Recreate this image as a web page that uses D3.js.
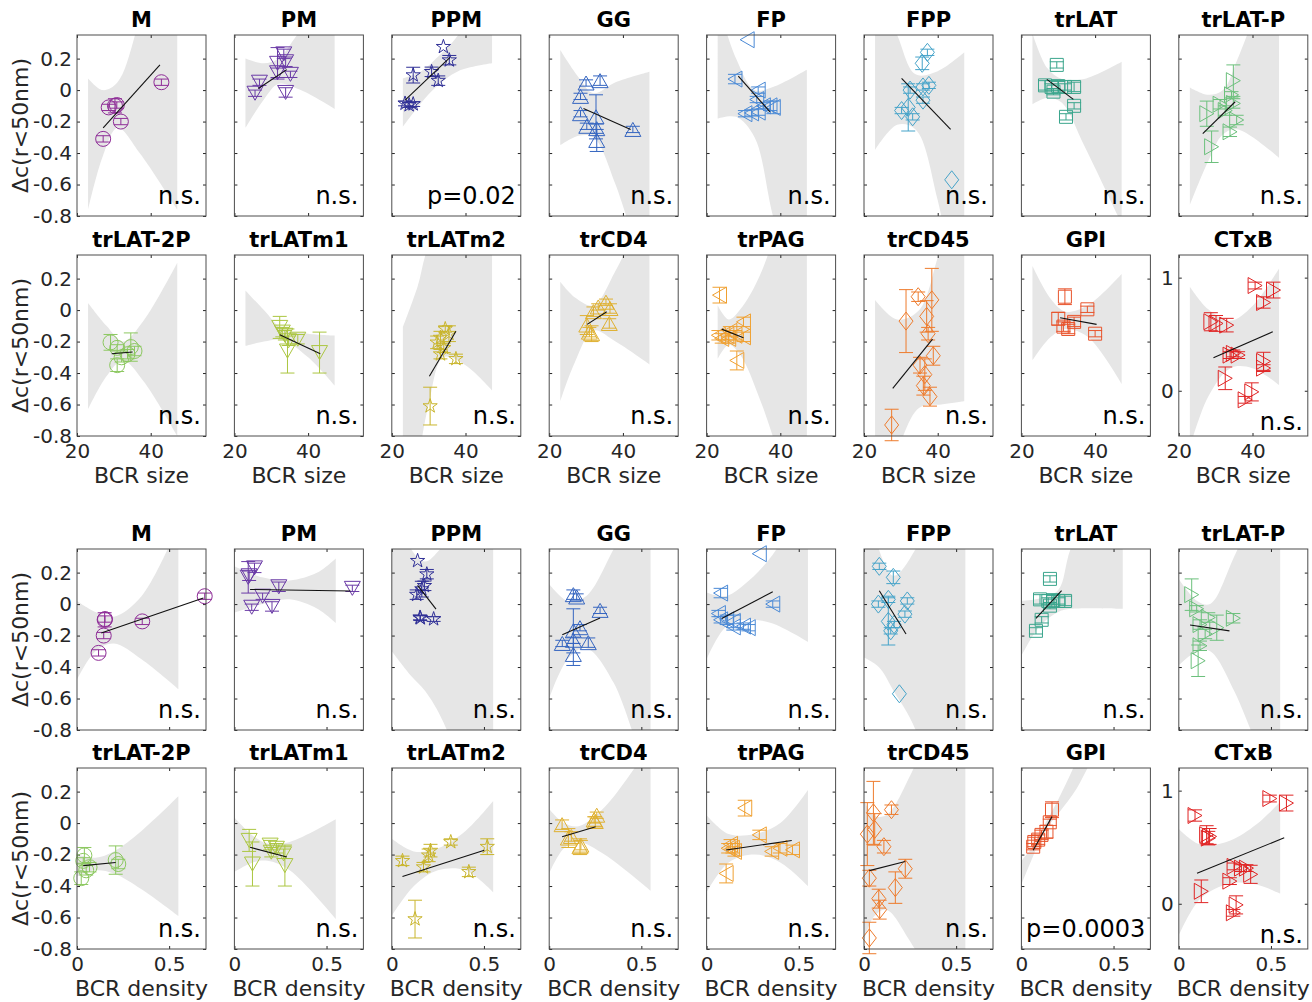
<!DOCTYPE html>
<html><head><meta charset="utf-8">
<script src="https://cdn.jsdelivr.net/npm/d3@7"></script>
<style>body{margin:0;background:#fff;} svg{display:block;} text{font-family:"DejaVu Sans",sans-serif;}</style>
</head><body><svg id="chart" width="1312" height="1002"></svg>
<script>
// ---------------- DATA ----------------
const categories = ["M","PM","PPM","GG","FP","FPP","trLAT","trLAT-P","trLAT-2P","trLATm1","trLATm2","trCD4","trPAG","trCD45","GPI","CTxB"];
const xTicksSize = [20, 40];
const xTicksDensity = [0, 0.5];
const yTicks = [-0.8, -0.6, -0.4, -0.2, 0, 0.2];
const yTicksCTxB = [0, 1];
const sigSize = ["n.s.","n.s.","p=0.02","n.s.","n.s.","n.s.","n.s.","n.s.","n.s.","n.s.","n.s.","n.s.","n.s.","n.s.","n.s.","n.s."];
const sigDensity = ["n.s.","n.s.","n.s.","n.s.","n.s.","n.s.","n.s.","n.s.","n.s.","n.s.","n.s.","n.s.","n.s.","n.s.","p=0.0003","n.s."];

// Δc(r<50nm) per category (shared by both halves)
const deltaC = [
  [-0.31,-0.11,-0.10,-0.095,-0.20,0.05],
  [-0.02,0.05,0.17,0.23,0.11,0.10,-0.015,0.18],
  [0.275,0.19,0.095,0.116,0.06,-0.085,-0.095,-0.089],
  [0.045,0.06,-0.04,-0.15,-0.17,-0.23,-0.25,-0.245,-0.32],
  [0.32,0.07,0.0,-0.06,-0.10,-0.10,-0.11,-0.14,-0.15,-0.145],
  [0.24,0.17,0.0,-0.11,0.02,-0.064,-0.13,-0.17,-0.57,0.03],
  [0.16,0.03,0.02,0.025,0.02,0.02,-0.01,-0.10,-0.17],
  [0.06,-0.03,-0.09,-0.13,-0.15,-0.19,-0.265,-0.36,-0.085],
  [-0.205,-0.24,-0.35,-0.30,-0.28,-0.235,-0.26],
  [-0.11,-0.14,-0.16,-0.195,-0.26,-0.185,-0.27],
  [-0.61,-0.205,-0.175,-0.24,-0.15,-0.28,-0.31,-0.12],
  [-0.095,-0.14,-0.01,0.02,0.05,0.01,-0.085,-0.15],
  [0.095,-0.16,-0.18,-0.16,-0.135,-0.16,-0.075,-0.17,-0.32,-0.18],
  [-0.73,-0.07,0.085,0.065,-0.04,-0.15,-0.29,-0.35,-0.41,-0.55,-0.48],
  [-0.15,-0.12,-0.105,-0.075,-0.055,0.005,0.085],
  [0.93,0.89,0.78,0.61,0.595,0.58,0.33,0.315,0.315,0.26,0.20,0.11,-0.01,-0.08]
];
const deltaCErr = [
  [0.02,0.02,0.045,0.02,0.02,0.02],
  [0.02,0.02,0.10,0.03,0.03,0.02,0.03,0.03],
  [0.0,0.03,0.05,0.03,0.03,0.015,0.015,0.015],
  [0.02,0.03,0.02,0.02,0.14,0.02,0.02,0.03,0.07],
  [0.0,0.03,0.02,0.02,0.02,0.03,0.04,0.02,0.02,0.02],
  [0.02,0.04,0.02,0.15,0.02,0.02,0.02,0.02,0.0,0.02],
  [0.02,0.03,0.02,0.03,0.02,0.03,0.02,0.02,0.02],
  [0.10,0.02,0.03,0.03,0.08,0.03,0.03,0.10,0.03],
  [0.05,0.02,0.04,0.03,0.03,0.09,0.03],
  [0.07,0.03,0.03,0.03,0.14,0.03,0.13],
  [0.12,0.04,0.04,0.03,0.05,0.03,0.03,0.02],
  [0.06,0.03,0.03,0.02,0.02,0.03,0.03,0.05],
  [0.05,0.03,0.03,0.03,0.03,0.03,0.03,0.03,0.06,0.03],
  [0.10,0.20,0.03,0.20,0.10,0.04,0.06,0.05,0.10,0.06,0.06],
  [0.02,0.03,0.03,0.03,0.04,0.02,0.05],
  [0.03,0.07,0.05,0.08,0.07,0.06,0.03,0.03,0.03,0.08,0.03,0.10,0.08,0.03]
];
const bcrSize = [
  [27.1,28.6,30.3,30.8,31.9,42.9],
  [25.6,26.8,31.7,33.4,31.7,35.2,33.9,33.9],
  [34.0,35.6,25.8,30.8,32.6,23.6,24.7,25.8],
  [30.0,33.8,28.5,28.5,32.7,30.2,42.7,32.9,32.9],
  [31.0,27.7,34.0,33.6,35.4,37.2,38.1,34.0,30.4,32.2],
  [37.2,35.8,32.5,32.0,36.0,36.0,30.2,33.2,43.8,37.6],
  [29.6,26.4,28.2,30.0,31.8,34.3,28.7,34.3,32.1],
  [34.8,34.3,31.2,32.6,27.6,35.7,33.9,28.9,34.8],
  [29.1,30.9,30.9,32.1,33.7,34.6,35.6],
  [32.3,33.0,33.7,34.7,34.4,37.2,43.1],
  [30.4,32.3,33.2,34.1,35.5,33.2,37.4,34.5],
  [30.2,30.9,32.0,33.3,35.4,36.5,36.3,31.5],
  [23.5,23.2,24.1,25.5,26.3,27.7,30.0,30.0,28.2,26.0],
  [27.5,31.4,34.7,38.4,37.0,37.4,38.8,35.2,36.5,37.9,36.1],
  [40.0,32.7,31.4,34.3,30.0,37.9,31.8],
  [40.7,45.7,43.0,28.7,30.1,33.0,34.8,33.9,36.1,43.0,43.0,32.6,39.8,38.0]
];
const bcrDensity = [
  [0.117,0.354,0.15,0.152,0.145,0.693],
  [0.094,0.153,0.075,0.109,0.241,0.64,0.204,0.08],
  [0.14,0.19,0.163,0.177,0.135,0.153,0.227,0.155],
  [0.149,0.131,0.276,0.167,0.131,0.131,0.071,0.212,0.131],
  [0.286,0.076,0.359,0.064,0.076,0.109,0.145,0.2,0.226,0.145],
  [0.083,0.159,0.078,0.132,0.235,0.222,0.163,0.145,0.192,0.132],
  [0.155,0.101,0.146,0.173,0.2,0.237,0.155,0.11,0.079],
  [0.07,0.097,0.296,0.115,0.206,0.143,0.115,0.105,0.16],
  [0.04,0.034,0.023,0.05,0.068,0.21,0.224],
  [0.08,0.194,0.228,0.267,0.098,0.2,0.274],
  [0.126,0.2,0.21,0.058,0.518,0.172,0.418,0.32],
  [0.104,0.172,0.07,0.244,0.258,0.25,0.12,0.167],
  [0.207,0.117,0.151,0.14,0.13,0.398,0.286,0.466,0.106,0.353],
  [0.029,0.018,0.149,0.051,0.058,0.108,0.224,0.029,0.17,0.085,0.08],
  [0.064,0.07,0.091,0.109,0.136,0.154,0.166],
  [0.494,0.584,0.088,0.151,0.167,0.16,0.3,0.367,0.34,0.39,0.277,0.122,0.311,0.296]
];

// regression line endpoints
const fitSizeX = [[27.1,42.5],[26.5,34.2],[23.6,35.8],[29.3,42.1],[28.6,37.2],[30.2,43.5],[26.9,34.1],[26.5,35.3],[29.4,35.1],[32.3,43.3],[30.2,37.4],[30.3,35.6],[24.1,30.0],[27.8,38.6],[30.5,40.4],[29.4,45.5]];
const fitSizeY = [[-0.24,0.16],[0.01,0.13],[-0.064,0.208],[-0.117,-0.25],[0.089,-0.138],[0.074,-0.25],[0.068,-0.059],[-0.276,-0.074],[-0.277,-0.266],[-0.156,-0.277],[-0.42,-0.134],[-0.091,-0.011],[-0.121,-0.176],[-0.498,-0.184],[-0.049,-0.091],[0.292,0.522]];
const fitDensityX = [[0.132,0.686],[0.085,0.63],[0.14,0.24],[0.071,0.276],[0.082,0.359],[0.083,0.228],[0.079,0.218],[0.061,0.275],[0.034,0.21],[0.085,0.285],[0.058,0.502],[0.07,0.252],[0.106,0.462],[0.029,0.224],[0.064,0.166],[0.099,0.572]];
const fitDensityY = [[-0.184,0.039],[0.093,0.083],[0.119,-0.032],[-0.195,-0.089],[-0.091,0.078],[0.085,-0.19],[-0.091,0.085],[-0.133,-0.17],[-0.27,-0.25],[-0.154,-0.216],[-0.34,-0.173],[-0.087,-0.023],[-0.171,-0.111],[-0.302,-0.244],[-0.173,0.041],[0.27,0.583]];

// confidence bands (x, lower, upper)
const bandSizeX = [
  [23,27,31,37,47.2],[23,28,32,38,47.2],[23,28,32,38,47.2],[23,28,32,38,47.2],
  [23,28,33,38,47.2],[23,29,34,40,47.2],[23,27,31,37,47.2],[23,28,32,36,47.2],
  [23,28,32.5,38,47.2],[23,28,33,40,47.2],[23,27,30,34,40,47.2],[23,27,32,38,47.2],
  [23,26,29,35,47.2],[23,29,35,41,47.2],[23,28,32,38,47.2],[23,28,34,40,47.2]
];
const bandSizeLo = [
  [-0.76,-0.42,-0.24,-0.4,-0.76],[-0.24,-0.06,0.04,0.0,-0.12],[-0.233,-0.08,0.02,0.12,0.17],[-0.35,-0.29,-0.3,-0.6,-1.3],
  [-0.18,-0.17,-0.3,-0.8,-1.6],[-0.38,-0.22,-0.25,-0.7,-1.6],[-0.09,-0.05,-0.08,-0.35,-0.85],[-0.73,-0.45,-0.28,-0.25,-0.43],
  [-0.63,-0.42,-0.32,-0.45,-0.8],[-0.227,-0.2,-0.19,-0.3,-0.48],[-1.3,-0.95,-0.6,-0.3,-0.35,-0.51],[-0.58,-0.33,-0.13,-0.2,-0.345],
  [-0.31,-0.22,-0.28,-0.6,-1.5],[-1.34,-0.9,-0.62,-0.6,-0.58],[-0.32,-0.17,-0.12,-0.17,-0.47],[-0.5,-0.05,0.2,0.2,0.05]
];
const bandSizeHi = [
  [0.074,0.0,0.05,0.45,1.3],[0.2,0.17,0.2,0.38,0.6],[0.074,0.12,0.2,0.35,0.75],[0.254,0.08,-0.02,0.05,0.117],
  [0.55,0.2,0.0,0.02,0.13],[0.7,0.35,0.1,0.12,0.24],[0.36,0.14,0.07,0.07,0.18],[0.017,-0.03,0.0,0.2,0.9],
  [0.045,-0.1,-0.2,-0.07,0.3],[0.125,0.0,-0.12,-0.15,-0.162],[-0.108,0.15,0.4,0.5,0.7,1.1],[0.18,0.08,0.03,0.25,0.7],
  [0.03,-0.06,0.0,0.25,1.2],[0.064,-0.06,0.0,0.4,0.68],[0.28,0.07,-0.01,0.03,0.23],[0.92,0.72,0.62,0.75,1.08]
];
const bandDensityX = [
  [0,0.1,0.2,0.35,0.55],[0,0.15,0.3,0.45,0.55],[0,0.1,0.18,0.28,0.55],[0,0.1,0.2,0.35,0.55],
  [0,0.1,0.2,0.35,0.55],[0,0.08,0.16,0.28,0.55],[0,0.1,0.2,0.27,0.55],[0,0.1,0.17,0.3,0.55],
  [0,0.1,0.2,0.35,0.55],[0,0.1,0.18,0.3,0.55],[0,0.12,0.25,0.4,0.55],[0,0.08,0.16,0.3,0.55],
  [0,0.12,0.26,0.4,0.55],[0,0.05,0.12,0.25,0.55],[0,0.06,0.12,0.2,0.3,0.4],[0,0.12,0.28,0.42,0.55]
];
const bandDensityLo = [
  [-0.48,-0.3,-0.25,-0.35,-0.54],[-0.054,0.0,0.03,-0.03,-0.12],[-0.3,-0.45,-0.55,-0.75,-1.6],[-0.6,-0.35,-0.28,-0.5,-1.2],
  [-0.35,-0.15,-0.1,-0.12,-0.24],[-0.34,-0.4,-0.55,-0.8,-2.0],[-0.33,-0.14,-0.05,-0.03,-0.03],[-0.39,-0.3,-0.3,-0.55,-1.3],
  [-0.34,-0.3,-0.32,-0.42,-0.59],[-0.31,-0.25,-0.24,-0.3,-0.61],[-0.59,-0.4,-0.3,-0.3,-0.44],[-0.32,-0.16,-0.12,-0.2,-0.43],
  [-0.44,-0.25,-0.2,-0.25,-0.4],[-0.75,-0.6,-0.55,-0.75,-1.4],[-0.39,-0.22,-0.06,0.06,0.22,0.45],[-0.28,0.05,0.18,0.17,0.09]
];
const bandDensityHi = [
  [0.02,-0.05,-0.08,0.05,0.5],[0.24,0.17,0.15,0.2,0.29],[0.9,0.36,0.27,0.37,0.7],[0.127,0.02,0.05,0.35,0.8],
  [0.074,0.05,0.12,0.3,0.7],[0.8,0.35,0.18,0.35,1.2],[0.02,0.035,0.09,0.36,1.0],[0.16,0.02,0.0,0.3,1.0],
  [-0.2,-0.22,-0.18,-0.05,0.17],[0.035,-0.08,-0.13,-0.12,0.024],[-0.1,-0.18,-0.16,-0.05,0.14],[0.09,0.0,-0.02,0.1,0.5],
  [0.05,-0.07,-0.07,0.0,0.21],[0.15,0.05,0.05,0.3,1.2],[-0.24,-0.15,-0.02,0.15,0.4,0.7],[0.66,0.52,0.56,0.7,0.9]
];

// ---------------- STYLE ----------------
const colors = ["#8e2c97","#6a3aa6","#2f2f96","#3565c0","#4b8ad6","#45a3c9","#3aa58c","#6cc07c","#8cc860","#abc640","#c9b52c","#dfb030","#f0a030","#ee7b2c","#e8542c","#e02424"];
const markerShapes = ["o","v","p","^","<","d","s",">","o","v","p","^","<","d","s",">"];
const sizeDomain = [20, 55], densityDomain = [0, 0.7];
const yDomain = [-0.8, 0.35], yDomainCTxB = [-0.4, 1.2];
const rowTop = [35, 255, 549, 768];
const W = 129, H = 181;

function starPath(R){
  const r = R*0.382; let p = "";
  for(let k=0;k<10;k++){
    const a = -Math.PI/2 + k*Math.PI/5, rr = k%2===0 ? R : r;
    p += (k===0?"M":"L") + (rr*Math.cos(a)).toFixed(2) + "," + (rr*Math.sin(a)).toFixed(2);
  }
  return p + "Z";
}
function markerD(s){
  switch(s){
    case "o": return "M7.5,0A7.5,7.5 0 1,1 -7.5,0A7.5,7.5 0 1,1 7.5,0Z";
    case "v": return "M-8,-7L8,-7L0,7Z";
    case "^": return "M0,-7L8,7L-8,7Z";
    case "<": return "M-7,0L7,-8L7,8Z";
    case ">": return "M7,0L-7,-8L-7,8Z";
    case "d": return "M0,-9L7,0L0,9L-7,0Z";
    case "s": return "M-6.5,-6.5H6.5V6.5H-6.5Z";
    case "p": return starPath(7.5);
  }
}

const svg = d3.select("#chart");
svg.append("rect").attr("width",1312).attr("height",1002).attr("fill","#fff");
const defs = svg.append("defs");
const fmt = d => String(+(+d).toFixed(1));

categories.forEach((cat, i) => {
  [0, 1].forEach(h => {
    const row = (i < 8 ? 0 : 1) + 2*h;
    const col = i % 8;
    const L = 77 + 157.4*col, T = rowTop[row];
    const isCT = cat === "CTxB";
    const x = d3.scaleLinear().domain(h===0 ? sizeDomain : densityDomain).range([L, L+W]);
    const y = d3.scaleLinear().domain(isCT ? yDomainCTxB : yDomain).range([T+H, T]);
    const clipId = `clip-${i}-${h}`;
    defs.append("clipPath").attr("id", clipId).append("rect")
      .attr("x", L).attr("y", T).attr("width", W).attr("height", H);
    const g = svg.append("g");

    // band
    const bx = h===0 ? bandSizeX[i] : bandDensityX[i];
    const blo = h===0 ? bandSizeLo[i] : bandDensityLo[i];
    const bhi = h===0 ? bandSizeHi[i] : bandDensityHi[i];
    const bandData = bx.map((v,k) => ({x:v, lo:blo[k], hi:bhi[k]}));
    g.append("path").datum(bandData)
      .attr("clip-path", `url(#${clipId})`)
      .attr("fill", "#e6e6e6")
      .attr("d", d3.area().x(d=>x(d.x)).y0(d=>y(d.lo)).y1(d=>y(d.hi)).curve(d3.curveCatmullRom.alpha(0.5)));

    // axes
    const yt = isCT ? yTicksCTxB : yTicks;
    const xt = h===0 ? xTicksSize : xTicksDensity;
    const showY = col === 0 || isCT;
    const showX = row === 1 || row === 3;
    const styleAxis = a => {
      a.select(".domain").remove();
      a.selectAll("line").attr("stroke", "#262626");
      a.selectAll("text").attr("font-size", 20).attr("font-family", "DejaVu Sans").attr("fill", "#262626");
    };
    g.append("g").attr("transform", `translate(${L},0)`)
      .call(d3.axisLeft(y).tickValues(yt).tickSizeInner(-3).tickSizeOuter(0).tickPadding(5).tickFormat(showY ? fmt : ""))
      .call(styleAxis);
    g.append("g").attr("transform", `translate(${L+W},0)`)
      .call(d3.axisRight(y).tickValues(yt).tickSizeInner(-3).tickSizeOuter(0).tickFormat(""))
      .call(styleAxis);
    g.append("g").attr("transform", `translate(0,${T+H})`)
      .call(d3.axisBottom(x).tickValues(xt).tickSizeInner(-3).tickSizeOuter(0).tickPadding(8).tickFormat(showX ? fmt : ""))
      .call(styleAxis);
    g.append("g").attr("transform", `translate(0,${T})`)
      .call(d3.axisTop(x).tickValues(xt).tickSizeInner(-3).tickSizeOuter(0).tickFormat(""))
      .call(styleAxis);

    // points with error bars
    const xs = h===0 ? bcrSize[i] : bcrDensity[i];
    const pts = deltaC[i].map((v,k) => ({x: xs[k], y: v, e: deltaCErr[i][k]}));
    const color = colors[i];
    const pg = g.append("g").attr("stroke", color).attr("fill", "none").attr("stroke-width", 1);
    pts.forEach(p => {
      const px = x(p.x);
      if (p.e > 0) {
        const y1 = y(p.y + p.e), y2 = y(p.y - p.e);
        pg.append("line").attr("x1", px).attr("x2", px).attr("y1", y1).attr("y2", y2);
        pg.append("line").attr("x1", px-7).attr("x2", px+7).attr("y1", y1).attr("y2", y1);
        pg.append("line").attr("x1", px-7).attr("x2", px+7).attr("y1", y2).attr("y2", y2);
      }
    });
    pg.selectAll("path.mk").data(pts).join("path").attr("class","mk")
      .attr("transform", d => `translate(${x(d.x)},${y(d.y)})`)
      .attr("d", markerD(markerShapes[i]));

    // fit line
    const fx = h===0 ? fitSizeX[i] : fitDensityX[i];
    const fy = h===0 ? fitSizeY[i] : fitDensityY[i];
    g.append("path").datum(fx.map((v,k)=>[v, fy[k]]))
      .attr("clip-path", `url(#${clipId})`)
      .attr("fill","none").attr("stroke","#111").attr("stroke-width",1.1)
      .attr("d", d3.line().x(d=>x(d[0])).y(d=>y(d[1])));

    // box
    g.append("rect").attr("x", L).attr("y", T).attr("width", W).attr("height", H)
      .attr("fill","none").attr("stroke","#4d4d4d").attr("stroke-width",1);

    // title
    g.append("text").attr("x", L+W/2).attr("y", T-8).attr("text-anchor","middle")
      .attr("font-size", 21).attr("font-weight","bold").attr("fill","#000").text(cat);

    // significance
    g.append("text").attr("x", L+W-5).attr("y", T+H-12 + (isCT ? 6 : 0)).attr("text-anchor","end")
      .attr("font-size", 24).attr("fill","#000").text(h===0 ? sigSize[i] : sigDensity[i]);

    // labels
    if (col === 0) {
      g.append("text").attr("transform", `translate(28,${T+H/2}) rotate(-90)`).attr("text-anchor","middle")
        .attr("font-size", 22).attr("fill","#262626").text("Δc(r<50nm)");
    }
    if (showX) {
      g.append("text").attr("x", L+W/2).attr("y", T+H+47).attr("text-anchor","middle")
        .attr("font-size", 22).attr("fill","#262626").text(h===0 ? "BCR size" : "BCR density");
    }
  });
});
</script></body></html>
